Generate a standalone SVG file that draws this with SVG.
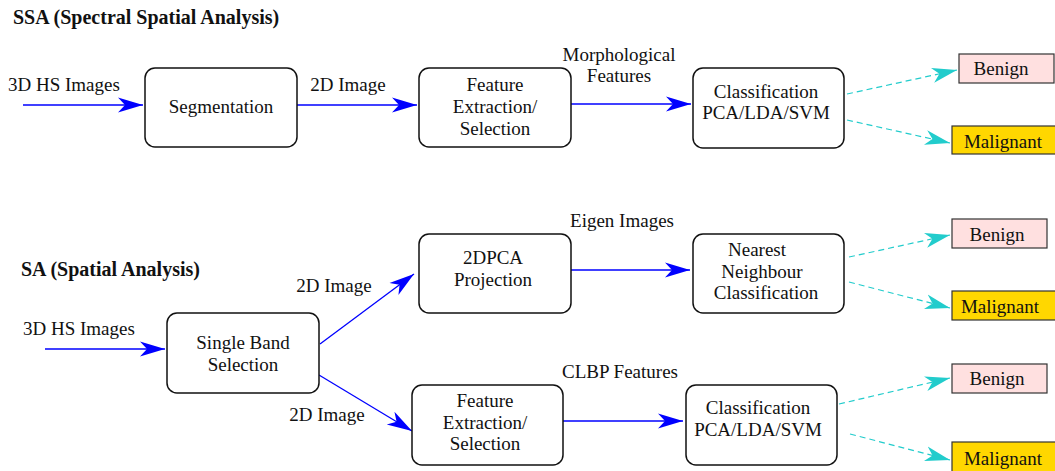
<svg xmlns="http://www.w3.org/2000/svg" width="1055" height="471" viewBox="0 0 1055 471">
<defs>
<style>
text{font-family:"Liberation Serif","Times New Roman",serif;font-size:19px;fill:#111}
.t{font-weight:bold;font-size:20px}
.c{text-anchor:middle}
.box{fill:#fff;stroke:#111;stroke-width:1.5}
.ben{fill:#ffe0e0;stroke:#333;stroke-width:1.2}
.mal{fill:#ffd700;stroke:#333;stroke-width:1.2}
.b{stroke:#0000ff;stroke-width:1.3;fill:none;marker-end:url(#ab)}
.d{stroke:#22cccc;stroke-width:1.2;fill:none;stroke-dasharray:6,4;marker-end:url(#ac)}
</style>
<marker id="ab" markerUnits="userSpaceOnUse" markerWidth="28" markerHeight="18" refX="25" refY="8" orient="auto" viewBox="0 0 28 16">
<path d="M25,8 L0,0.5 L7,8 L0,15.5 Z" fill="#0000ff"/>
</marker>
<marker id="ac" markerUnits="userSpaceOnUse" markerWidth="28" markerHeight="18" refX="25" refY="8" orient="auto" viewBox="0 0 28 16">
<path d="M25,8 L0,0.5 L7,8 L0,15.5 Z" fill="#22cccc"/>
</marker>
</defs>
<text class="t" x="13" y="24">SSA (Spectral Spatial Analysis)</text>
<text class="t" x="21" y="276">SA (Spatial Analysis)</text>
<g id="connectors">
<line class="b" x1="23" y1="105" x2="143" y2="105"/>
<line class="b" x1="297" y1="105" x2="417" y2="105"/>
<line class="b" x1="571" y1="104" x2="691" y2="104"/>
<line class="d" x1="847" y1="94" x2="957" y2="70"/>
<line class="d" x1="847" y1="120" x2="950" y2="143"/>
<line class="b" x1="45" y1="349" x2="165" y2="349"/>
<line class="b" x1="320" y1="344" x2="414" y2="274"/>
<line class="b" x1="319" y1="375" x2="412" y2="431"/>
<line class="b" x1="571" y1="270" x2="690" y2="270"/>
<line class="b" x1="563" y1="421" x2="683" y2="421"/>
<line class="d" x1="849" y1="257" x2="950" y2="235"/>
<line class="d" x1="849" y1="282" x2="950" y2="308"/>
<line class="d" x1="839" y1="404" x2="950" y2="378"/>
<line class="d" x1="850" y1="434" x2="950" y2="460"/>
<text x="8" y="91">3D HS Images</text>
<text class="c" x="348" y="91">2D Image</text>
<text class="c" x="619" y="61">Morphological</text>
<text class="c" x="619" y="82">Features</text>
<text x="23" y="335">3D HS Images</text>
<text class="c" x="334" y="292">2D Image</text>
<text class="c" x="327" y="421">2D Image</text>
<text class="c" x="622" y="227">Eigen Images</text>
<text class="c" x="620" y="378">CLBP Features</text>
</g>
<g id="segmentation"><rect class="box" x="145" y="68" width="152" height="79" rx="10"/><text class="c" x="221" y="113">Segmentation</text></g>
<g id="fe1"><rect class="box" x="419" y="68" width="152" height="79" rx="10"/><text class="c" x="495" y="91">Feature</text><text class="c" x="495" y="113">Extraction/</text><text class="c" x="495" y="135">Selection</text></g>
<g id="cls1"><rect class="box" x="693" y="68" width="151" height="80" rx="10"/><text class="c" x="766" y="98">Classification</text><text class="c" x="766" y="119">PCA/LDA/SVM</text></g>
<g id="benign1"><rect class="ben" x="959" y="54" width="95" height="29"/><text class="c" x="1001" y="75">Benign</text></g>
<g id="malignant1"><rect class="mal" x="952" y="126" width="104" height="28"/><text class="c" x="1003" y="148">Malignant</text></g>
<g id="sbs"><rect class="box" x="167" y="313" width="152" height="80" rx="10"/><text class="c" x="243" y="349">Single Band</text><text class="c" x="243" y="371">Selection</text></g>
<g id="pca2d"><rect class="box" x="419" y="234" width="152" height="79" rx="10"/><text class="c" x="493" y="264">2DPCA</text><text class="c" x="493" y="286">Projection</text></g>
<g id="nn"><rect class="box" x="693" y="234" width="151" height="79" rx="10"/><text class="c" x="757" y="256">Nearest</text><text class="c" x="762" y="278">Neighbour</text><text class="c" x="766" y="299">Classification</text></g>
<g id="benign2"><rect class="ben" x="952" y="219" width="95" height="29"/><text class="c" x="997" y="241">Benign</text></g>
<g id="malignant2"><rect class="mal" x="952" y="291" width="104" height="29"/><text class="c" x="1000" y="313">Malignant</text></g>
<g id="fe2"><rect class="box" x="412" y="385" width="151" height="80" rx="10"/><text class="c" x="485" y="407">Feature</text><text class="c" x="485" y="429">Extraction/</text><text class="c" x="485" y="450">Selection</text></g>
<g id="cls2"><rect class="box" x="686" y="385" width="151" height="80" rx="10"/><text class="c" x="758" y="414">Classification</text><text class="c" x="758" y="436">PCA/LDA/SVM</text></g>
<g id="benign3"><rect class="ben" x="952" y="364" width="95" height="29"/><text class="c" x="997" y="385">Benign</text></g>
<g id="malignant3"><rect class="mal" x="952" y="442" width="104" height="30"/><text class="c" x="1003" y="465">Malignant</text></g>
</svg>
